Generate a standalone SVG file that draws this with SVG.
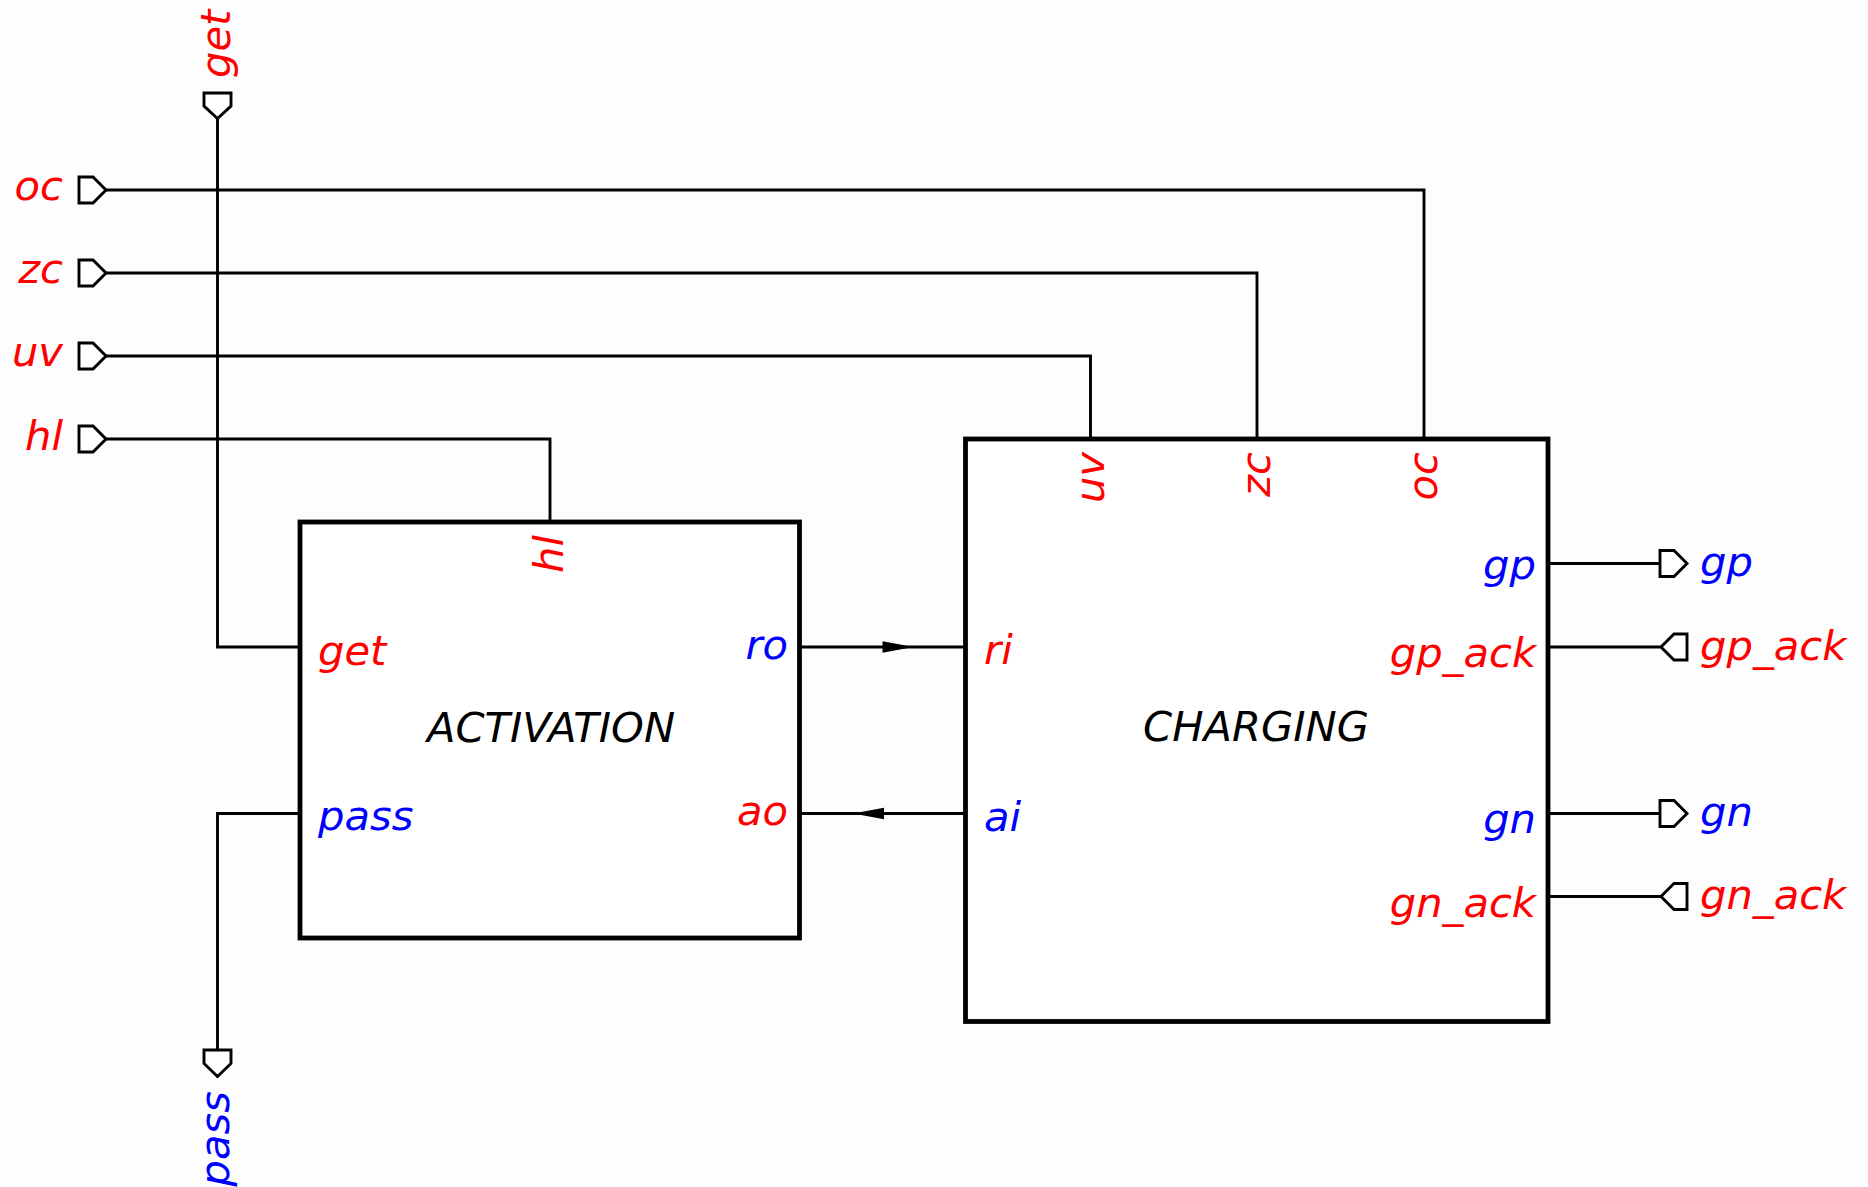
<svg xmlns="http://www.w3.org/2000/svg" width="1868" height="1187" viewBox="0 0 1868 1187">
  <style>
    text { font-family: "DejaVu Sans", "Liberation Sans", sans-serif; font-style: italic; font-size: 41.67px; }
    .r { fill: #ff0000; }
    .b { fill: #0000ff; }
    .k { fill: #000000; }
    .end { text-anchor: end; }
    .mid { text-anchor: middle; }
    .box { fill: #ffffff; stroke: #000000; stroke-width: 4.8; }
    .wire { fill: none; stroke: #000000; stroke-width: 2.9; }
    .port { fill: #ffffff; stroke: #000000; stroke-width: 2.9; stroke-linejoin: miter; }
  </style>
  <defs>
    <marker id="arr" markerUnits="userSpaceOnUse" markerWidth="34" markerHeight="14" refX="0" refY="7" orient="auto" overflow="visible">
      <path d="M0,1.3 L31,7 L0,12.7 Z" fill="#000000"/>
    </marker>
  </defs>
  <rect x="0" y="0" width="1868" height="1187" fill="#fdfdfd"/>

  <g id="connectors">
    <path class="wire" d="M217.5,118 V647 H300"/>
    <path class="wire" d="M300,813.5 H217.5 V1050"/>
    <path class="wire" d="M106,190 H1424 V439"/>
    <path class="wire" d="M106,273 H1257 V439"/>
    <path class="wire" d="M106,356 H1090.5 V439"/>
    <path class="wire" d="M106,439 H550 V522"/>
    <path class="wire" d="M800,647 H882.5 H965.5" marker-mid="url(#arr)"/>
    <path class="wire" d="M965.5,813.5 H884 H800" marker-mid="url(#arr)"/>
    <path class="wire" d="M1548,563.5 H1660"/>
    <path class="wire" d="M1548,647 H1661"/>
    <path class="wire" d="M1548,813.5 H1660"/>
    <path class="wire" d="M1548,896.5 H1661"/>
  </g>

  <g id="port-get">
    <path class="port" d="M204,93 H231 V106 L217.5,118.5 L204,106 Z"/>
    <text class="r" transform="translate(229.5,78) rotate(-90)">get</text>
  </g>
  <g id="port-pass">
    <path class="port" d="M204,1050 H231 V1063.5 L217.5,1076.5 L204,1063.5 Z"/>
    <text class="b end" transform="translate(228.5,1091) rotate(-90)">pass</text>
  </g>
  <g id="port-oc">
    <path class="port" d="M79,177 H93 L106,190 L93,203 H79 Z"/>
    <text class="r end" x="63" y="200">oc</text>
  </g>
  <g id="port-zc">
    <path class="port" d="M79,260 H93 L106,273 L93,286 H79 Z"/>
    <text class="r end" x="63" y="283">zc</text>
  </g>
  <g id="port-uv">
    <path class="port" d="M79,343 H93 L106,356 L93,369 H79 Z"/>
    <text class="r end" x="63" y="366">uv</text>
  </g>
  <g id="port-hl">
    <path class="port" d="M79,426 H93 L106,439 L93,452 H79 Z"/>
    <text class="r end" x="63" y="450">hl</text>
  </g>

  <g id="port-gp">
    <path class="port" d="M1660,550.5 H1674 L1687,563.5 L1674,576.5 H1660 Z"/>
    <text class="b" x="1700" y="575.5">gp</text>
  </g>
  <g id="port-gp_ack">
    <path class="port" d="M1661,647 L1674,634 H1687 V660 H1674 Z"/>
    <text class="r" x="1700" y="659.5">gp_ack</text>
  </g>
  <g id="port-gn">
    <path class="port" d="M1660,800.5 H1674 L1687,813.5 L1674,826.5 H1660 Z"/>
    <text class="b" x="1700" y="825.5">gn</text>
  </g>
  <g id="port-gn_ack">
    <path class="port" d="M1661,896.5 L1674,883.5 H1687 V909.5 H1674 Z"/>
    <text class="r" x="1700" y="909">gn_ack</text>
  </g>

  <g id="node-activation">
    <rect class="box" x="300" y="522" width="499.5" height="416"/>
    <text class="k mid" x="551" y="741.5">ACTIVATION</text>
    <text class="r end" transform="translate(563,535) rotate(-90)">hl</text>
    <text class="r" x="318" y="665">get</text>
    <text class="b" x="318" y="829.5">pass</text>
    <text class="b end" x="788" y="659">ro</text>
    <text class="r end" x="788" y="825">ao</text>
  </g>

  <g id="node-charging">
    <rect class="box" x="965.5" y="439" width="582.5" height="582.5"/>
    <text class="k mid" x="1256" y="740.5">CHARGING</text>
    <text class="r end" transform="translate(1103.5,452) rotate(-90)">uv</text>
    <text class="r end" transform="translate(1270,452) rotate(-90)">zc</text>
    <text class="r end" transform="translate(1436.5,452) rotate(-90)">oc</text>
    <text class="r" x="984" y="664">ri</text>
    <text class="b" x="984" y="830.5">ai</text>
    <text class="b end" x="1536" y="579">gp</text>
    <text class="r end" x="1536" y="667">gp_ack</text>
    <text class="b end" x="1536" y="833">gn</text>
    <text class="r end" x="1536" y="917">gn_ack</text>
  </g>
</svg>
